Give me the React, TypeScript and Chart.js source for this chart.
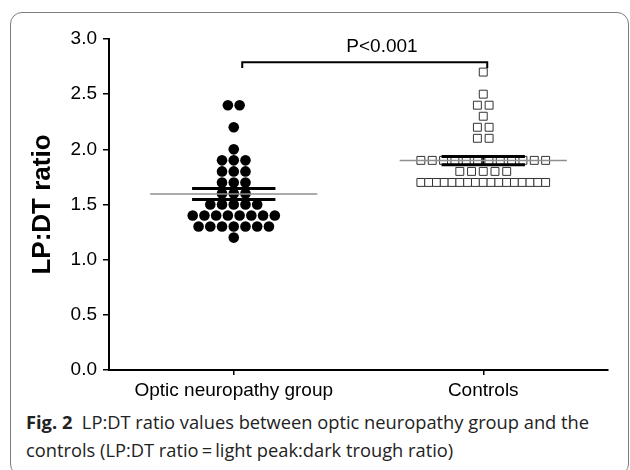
import React, { useEffect, useRef } from "react";
import { Chart, registerables } from "chart.js";

Chart.register(...registerables);

// ---- data ----
const categories = ["Optic neuropathy group", "Controls"];
const neuropathyValues = [
  2.4, 2.4, 2.2, 2.0, 1.9, 1.9, 1.9, 1.8, 1.8, 1.8, 1.7, 1.7, 1.7, 1.6, 1.6, 1.6,
  1.5, 1.5, 1.5, 1.5, 1.5, 1.4, 1.4, 1.4, 1.4, 1.4, 1.4, 1.4, 1.4,
  1.3, 1.3, 1.3, 1.3, 1.3, 1.3, 1.3, 1.2,
];
const controlValues = [
  2.7, 2.5, 2.4, 2.4, 2.3, 2.2, 2.2, 2.1, 2.1,
  1.9, 1.9, 1.9, 1.9, 1.9, 1.9, 1.9, 1.9, 1.9, 1.9, 1.9, 1.9,
  1.8, 1.8, 1.8, 1.8, 1.8,
  1.7, 1.7, 1.7, 1.7, 1.7, 1.7, 1.7, 1.7, 1.7, 1.7, 1.7, 1.7, 1.7, 1.7, 1.7, 1.7, 1.7,
];
const yTickValues = [0, 0.5, 1.0, 1.5, 2.0, 2.5, 3.0];
const pValueText = "P<0.001";
const yAxisTitle = "LP:DT ratio";

// ---- layout constants ----
const POINT_STEP = 0.047;
const MAX_ROW_SPAN = 0.5;
const MEAN_HALF = 0.335;
const SEM_HALF = 0.167;
const BRACKET = { x1: 1.034, x2: 2.016, y: 2.79, yEnd: 2.737 };
const P_LABEL = { x: 1.594, y: 2.93 };
const FONT = "'Liberation Sans', Arial, sans-serif";

function swarm(values: number[], center: number) {
  const rows = new Map<number, number>();
  values.forEach((v) => rows.set(v, (rows.get(v) || 0) + 1));
  const out: { x: number; y: number }[] = [];
  rows.forEach((n, v) => {
    const step = n > 1 ? Math.min(POINT_STEP, MAX_ROW_SPAN / (n - 1)) : 0;
    for (let i = 0; i < n; i++) out.push({ x: center + (i - (n - 1) / 2) * step, y: v });
  });
  return out;
}

function meanSem(values: number[]) {
  const n = values.length;
  const m = values.reduce((a, b) => a + b, 0) / n;
  const sd = Math.sqrt(values.reduce((a, b) => a + (b - m) * (b - m), 0) / (n - 1));
  return { m, s: sd / Math.sqrt(n) };
}

function summaryDatasets(values: number[], c: number) {
  const { m, s } = meanSem(values);
  const base = { showLine: true, pointRadius: 0, order: 0, fill: false } as any;
  return [
    { ...base, data: [{ x: c - MEAN_HALF, y: m }, { x: c + MEAN_HALF, y: m }], borderColor: "#8f8f8f", borderWidth: 1.5 },
    { ...base, data: [{ x: c - SEM_HALF, y: m + s }, { x: c + SEM_HALF, y: m + s }], borderColor: "#000", borderWidth: 3 },
    { ...base, data: [{ x: c - SEM_HALF, y: m - s }, { x: c + SEM_HALF, y: m - s }], borderColor: "#000", borderWidth: 3 },
    { ...base, data: [{ x: c, y: m - s }, { x: c, y: m + s }], borderColor: "#000", borderWidth: 2 },
  ];
}

const pLabelPlugin = {
  id: "pLabel",
  afterDatasetsDraw(chart: any) {
    const { ctx, scales } = chart;
    ctx.save();
    ctx.font = `19px ${FONT}`;
    ctx.fillStyle = "#000";
    ctx.textAlign = "center";
    ctx.textBaseline = "middle";
    ctx.fillText(pValueText, scales.x.getPixelForValue(P_LABEL.x), scales.y.getPixelForValue(P_LABEL.y));
    ctx.restore();
  },
};

function ScatterChart() {
  const ref = useRef<HTMLCanvasElement>(null);
  useEffect(() => {
    if (!ref.current) return;
    const chart = new Chart(ref.current, {
      type: "scatter",
      data: {
        datasets: [
          ...summaryDatasets(neuropathyValues, 1),
          ...summaryDatasets(controlValues, 2),
          {
            showLine: true,
            pointRadius: 0,
            order: 0,
            data: [
              { x: BRACKET.x1, y: BRACKET.yEnd },
              { x: BRACKET.x1, y: BRACKET.y },
              { x: BRACKET.x2, y: BRACKET.y },
              { x: BRACKET.x2, y: BRACKET.yEnd },
            ],
            borderColor: "#000",
            borderWidth: 2,
          } as any,
          {
            data: swarm(neuropathyValues, 1),
            pointStyle: "circle",
            pointRadius: 5.3,
            backgroundColor: "#000",
            borderWidth: 0,
            order: 1,
          },
          {
            data: swarm(controlValues, 2),
            pointStyle: "rect",
            pointRadius: 5.6,
            backgroundColor: "#fff",
            borderColor: "#333",
            borderWidth: 1,
            order: 1,
          },
        ],
      },
      options: {
        responsive: false,
        animation: false,
        layout: { padding: { top: 39, right: 22, left: 0, bottom: 0 } },
        plugins: { legend: { display: false }, tooltip: { enabled: false } },
        scales: {
          x: {
            type: "linear",
            min: 0.5,
            max: 2.5,
            afterBuildTicks: (scale: any) => {
              scale.ticks = categories.map((_, i) => ({ value: i + 1 }));
            },
            afterFit: (scale: any) => {
              scale.height = 30;
            },
            ticks: {
              callback: (v: any) => categories[Math.round(Number(v)) - 1] ?? "",
              color: "#000",
              font: { family: FONT, size: 19 },
              padding: 4,
              maxRotation: 0,
              autoSkip: false,
            },
            grid: { drawOnChartArea: false, tickLength: 5, color: "#000", lineWidth: 1.5 },
            border: { display: true, color: "#000", width: 2 },
          },
          y: {
            type: "linear",
            min: 0,
            max: 3,
            afterBuildTicks: (scale: any) => {
              scale.ticks = yTickValues.map((v) => ({ value: v }));
            },
            afterFit: (scale: any) => {
              scale.width = 109;
            },
            ticks: {
              callback: (v: any) => Number(v).toFixed(1),
              color: "#000",
              font: { family: FONT, size: 19 },
              padding: 6,
            },
            title: {
              display: true,
              text: yAxisTitle,
              color: "#000",
              font: { family: FONT, size: 26, weight: "bold", lineHeight: 1.2 },
              padding: { top: 27, bottom: 0 },
            },
            grid: { drawOnChartArea: false, tickLength: 6, color: "#000", lineWidth: 1.5 },
            border: { display: true, color: "#000", width: 2 },
          },
        },
      },
      plugins: [pLabelPlugin],
    } as any);
    return () => chart.destroy();
  }, []);
  return (
    <canvas
      ref={ref}
      width={630}
      height={400}
      style={{ position: "absolute", left: 0, top: 0, width: 630, height: 400 }}
    />
  );
}

export default function App() {
  return (
    <div
      style={{
        position: "absolute",
        left: 0,
        top: 0,
        width: 630,
        height: 470,
        overflow: "hidden",
        background: "#fff",
      }}
    >
      <div
        style={{
          position: "absolute",
          left: 10,
          top: 12,
          width: 619,
          height: 464,
          border: "1px solid #7d7d7d",
          borderRadius: 12,
          boxSizing: "border-box",
        }}
      />
      <ScatterChart />
      <div
        style={{
          position: "absolute",
          left: 26,
          top: 408,
          fontFamily: "'Open Sans', sans-serif",
          fontSize: 18.3,
          lineHeight: "27.7px",
          color: "#222",
          whiteSpace: "nowrap",
        }}
      >
        <b>Fig. 2</b>&nbsp; LP:DT ratio values between optic neuropathy group and the
        <br />
        controls (LP:DT ratio{"\u2009"}={"\u2009"}light peak:dark trough ratio)
      </div>
    </div>
  );
}
